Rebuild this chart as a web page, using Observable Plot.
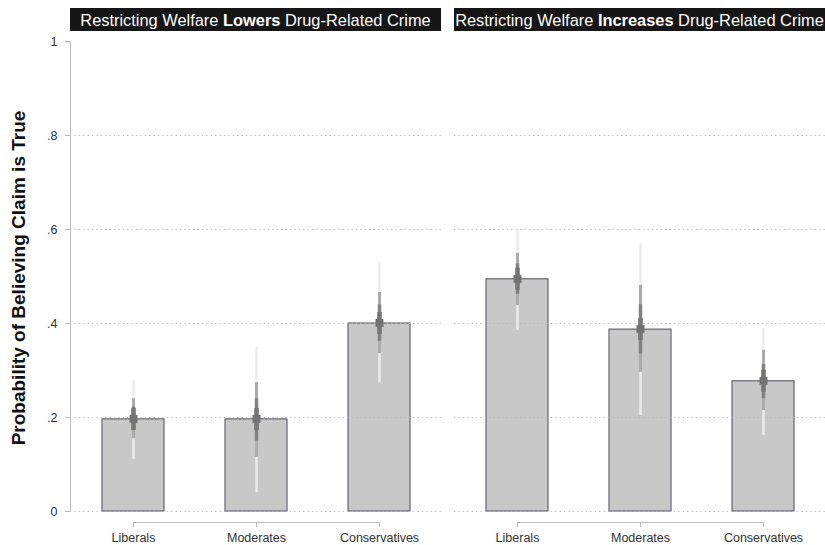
<!DOCTYPE html>
<html>
<head>
<meta charset="utf-8">
<script src="https://cdn.jsdelivr.net/npm/d3@7"></script>
<script src="https://cdn.jsdelivr.net/npm/@observablehq/plot@0.6"></script>
<style>
  html, body { margin: 0; padding: 0; background: #fff; }
  #chart { width: 825px; height: 545px; overflow: hidden; }
</style>
</head>
<body>
<div id="chart"></div>
<script>
// ---- data ----
const panelKeys = ["Lowers", "Increases"];
const headerPrefix = "Restricting Welfare ";
const headerSuffix = " Drug-Related Crime";
const ideologies = ["Liberals", "Moderates", "Conservatives"];

// one entry per bar: Lowers panel (Lib, Mod, Con), then Increases panel (Lib, Mod, Con)
const barPanel = ["Lowers", "Lowers", "Lowers", "Increases", "Increases", "Increases"];
const barGroup = ["Liberals", "Moderates", "Conservatives", "Liberals", "Moderates", "Conservatives"];
const meanProb = [0.196, 0.196, 0.400, 0.494, 0.387, 0.277];
// outer (lightest) interval
const outerLo = [0.111, 0.040, 0.274, 0.385, 0.204, 0.162];
const outerHi = [0.279, 0.349, 0.530, 0.602, 0.570, 0.389];
// middle interval
const midLo = [0.155, 0.115, 0.336, 0.438, 0.296, 0.215];
const midHi = [0.240, 0.274, 0.466, 0.549, 0.481, 0.343];
// inner (darkest) interval
const innerLo = [0.172, 0.150, 0.362, 0.462, 0.335, 0.240];
const innerHi = [0.222, 0.240, 0.440, 0.527, 0.440, 0.313];

const yTicks = [0, 0.2, 0.4, 0.6, 0.8, 1];
const gridValues = [0, 0.2, 0.4, 0.6, 0.8];
const yTitle = "Probability of Believing Claim is True";

const rows = barPanel.map((p, i) => ({
  panel: p, group: barGroup[i], mean: meanProb[i],
  lo1: outerLo[i], hi1: outerHi[i],
  lo2: midLo[i], hi2: midHi[i],
  lo3: innerLo[i], hi3: innerHi[i]
}));

const fmt = d => d === 0 ? "0" : d === 1 ? "1" : String(d).replace(/^0/, "");
const font = "'Liberation Sans', Arial, Helvetica, sans-serif";

const chart = Plot.plot({
  width: 825,
  height: 545,
  marginTop: 41,
  marginBottom: 34,
  marginLeft: 69,
  marginRight: 0,
  style: {fontFamily: font, fontSize: "12.5px", color: "#333", background: "#fff", overflow: "visible"},
  fx: {domain: panelKeys, paddingInner: 0.034, paddingOuter: 0, axis: null, label: null},
  x: {domain: ideologies, paddingInner: 0.5, paddingOuter: 0.25, axis: null, label: null},
  y: {domain: [0, 1], axis: null, label: null},
  marks: [
    Plot.barY(rows, {fx: "panel", x: "group", y: "mean", fill: "#c8c8c8", stroke: "#4f4b5c", strokeWidth: 1}),
    Plot.ruleY(gridValues, {stroke: "#b8b8b8", strokeDasharray: "1.2,3.2"}),
    Plot.ruleX(rows, {fx: "panel", x: "group", y1: "lo1", y2: "hi1", stroke: "#ececec", strokeWidth: 2.5}),
    Plot.ruleX(rows, {fx: "panel", x: "group", y1: "lo2", y2: "hi2", stroke: "#ababab", strokeWidth: 3}),
    Plot.ruleX(rows, {fx: "panel", x: "group", y1: "lo3", y2: "hi3", stroke: "#828282", strokeWidth: 3.5}),
    Plot.ruleX(rows, {fx: "panel", x: "group", y1: "mean", y2: "mean", insetTop: -11, insetBottom: -11, stroke: "#767676", strokeWidth: 4.5}),
    Plot.ruleX(rows, {fx: "panel", x: "group", y1: "mean", y2: "mean", insetTop: -4, insetBottom: -4, stroke: "#727272", strokeWidth: 8}),
    Plot.axisY({ticks: yTicks, tickFormat: fmt, tickSize: 5, tickPadding: 8, stroke: "#bbb", label: null}),
    Plot.frame({anchor: "left", facetAnchor: "left", stroke: "#bbb"}),
    Plot.lineY(ideologies, {x: d => d, y: () => 0, dy: 11, stroke: "#bbb", strokeWidth: 1}),
    Plot.axisX({tickSize: 5, dy: 11, tickPadding: 5.5, stroke: "#bbb", label: null})
  ]
});

document.getElementById("chart").appendChild(chart);

// facet headers (black boxes) placed with Plot's fx scale
const fxs = chart.scale("fx");
const svg = d3.select(chart);
const hdr = svg.append("g").attr("class", "facet-headers");
panelKeys.forEach(k => {
  const x0 = fxs.apply(k);
  const bw = fxs.bandwidth;
  hdr.append("rect").attr("x", x0).attr("y", 8).attr("width", bw).attr("height", 23).attr("fill", "#161616");
  const t = hdr.append("text")
    .attr("x", x0 + bw / 2).attr("y", 25.5)
    .attr("text-anchor", "middle")
    .attr("fill", "#fff")
    .attr("font-family", font)
    .attr("font-size", "16.4px");
  t.append("tspan").text(headerPrefix);
  t.append("tspan").attr("font-weight", "bold").text(k);
  t.append("tspan").text(headerSuffix);
});

// y axis title
svg.append("text")
  .attr("transform", "translate(25,278) rotate(-90)")
  .attr("text-anchor", "middle")
  .attr("font-family", font)
  .attr("font-weight", "bold")
  .attr("font-size", "19px")
  .attr("fill", "#111")
  .text(yTitle);
</script>
</body>
</html>
